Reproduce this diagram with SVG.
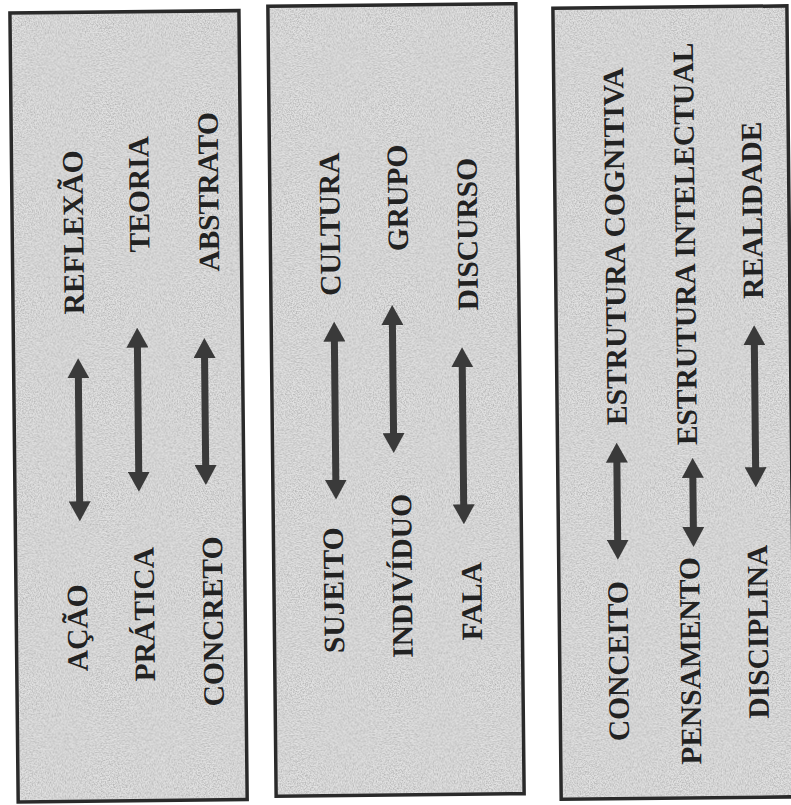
<svg xmlns="http://www.w3.org/2000/svg" width="791" height="805" viewBox="0 0 791 805">
<style>
.panel{fill:#e2e2e2;stroke:#2a2a2a;stroke-width:3.5}
.grain{fill:#fff}
.lbl{font-family:"Liberation Serif","Times New Roman",serif;font-weight:bold;font-size:29.5px;fill:#222222;text-anchor:middle}
.arr{stroke:#3a3a3a;stroke-width:7;fill:none;marker-start:url(#head);marker-end:url(#head)}
</style>
<defs>
<marker id="head" viewBox="0 0 20 22" markerWidth="20" markerHeight="22" refX="2" refY="11" orient="auto-start-reverse" markerUnits="userSpaceOnUse">
<path d="M0,0 L20,11 L0,22 Z" fill="#3a3a3a"/>
</marker>
<filter id="noise" x="0" y="0" width="100%" height="100%">
<feTurbulence type="fractalNoise" baseFrequency="0.75" numOctaves="2" seed="7" result="n"/>
<feColorMatrix in="n" type="matrix" values="0 0 0 0 0  0 0 0 0 0  0 0 0 0 0  0.45 0 0 0 -0.16" result="a"/>
<feComposite in="a" in2="SourceGraphic" operator="in"/>
</filter>
</defs>
<rect width="791" height="805" fill="#ffffff"/>
<g transform="rotate(-0.6 395 400)">
<g id="panels">
<rect class="panel" x="14" y="9" width="229" height="789"/>
<rect class="grain" x="16" y="11" width="225" height="785" filter="url(#noise)"/>
<rect class="panel" x="272" y="5" width="248" height="790"/>
<rect class="grain" x="274" y="7" width="244" height="786" filter="url(#noise)"/>
<rect class="panel" x="557" y="10" width="234" height="791"/>
<rect class="grain" x="559" y="12" width="230" height="787" filter="url(#noise)"/>
</g>
<g id="connectors">
<line class="arr" x1="78.6" y1="373" x2="78.6" y2="500"/>
<line class="arr" x1="138" y1="343" x2="138" y2="471"/>
<line class="arr" x1="205" y1="354" x2="205" y2="465"/>
<line class="arr" x1="335" y1="339" x2="335" y2="481"/>
<line class="arr" x1="393.2" y1="323" x2="393.2" y2="435"/>
<line class="arr" x1="462.6" y1="366" x2="462.6" y2="507"/>
<line class="arr" x1="616.2" y1="463" x2="616.2" y2="544"/>
<line class="arr" x1="692" y1="479" x2="692" y2="532"/>
<line class="arr" x1="754.9" y1="347" x2="754.9" y2="473"/>
</g>
<g id="n-reflexao"><text class="lbl" transform="translate(85,229) rotate(-90)">REFLEXÃO</text></g>
<g id="n-teoria"><text class="lbl" transform="translate(151,191.5) rotate(-90)">TEORIA</text></g>
<g id="n-abstrato"><text class="lbl" transform="translate(220.5,190) rotate(-90)">ABSTRATO</text></g>
<g id="n-acao"><text class="lbl" transform="translate(85,624.5) rotate(-90)">AÇÃO</text></g>
<g id="n-pratica"><text class="lbl" transform="translate(152,611.5) rotate(-90)">PRÁTICA</text></g>
<g id="n-concreto"><text class="lbl" transform="translate(220.5,619.5) rotate(-90)">CONCRETO</text></g>
<g id="n-cultura"><text class="lbl" transform="translate(341.5,223.5) rotate(-90)">CULTURA</text></g>
<g id="n-grupo"><text class="lbl" transform="translate(409.5,198) rotate(-90)">GRUPO</text></g>
<g id="n-discurso"><text class="lbl" transform="translate(479,235) rotate(-90)">DISCURSO</text></g>
<g id="n-sujeito"><text class="lbl" transform="translate(341.5,589.5) rotate(-90)">SUJEITO</text></g>
<g id="n-individuo"><text class="lbl" transform="translate(410,576) rotate(-90)">INDIVÍDUO</text></g>
<g id="n-fala"><text class="lbl" transform="translate(479.5,602) rotate(-90)">FALA</text></g>
<g id="n-estrutura-cognitiva"><text class="lbl" transform="translate(626.5,248.5) rotate(-90)">ESTRUTURA COGNITIVA</text></g>
<g id="n-estrutura-intelectual"><text class="lbl" transform="translate(696.5,247) rotate(-90)">ESTRUTURA INTELECTUAL</text></g>
<g id="n-realidade"><text class="lbl" transform="translate(764,214) rotate(-90)">REALIDADE</text></g>
<g id="n-conceito"><text class="lbl" transform="translate(625.5,663.5) rotate(-90)">CONCEITO</text></g>
<g id="n-pensamento"><text class="lbl" transform="translate(697.5,664) rotate(-90)">PENSAMENTO</text></g>
<g id="n-disciplina"><text class="lbl" transform="translate(765.5,635.5) rotate(-90)">DISCIPLINA</text></g>
</g>
</svg>
